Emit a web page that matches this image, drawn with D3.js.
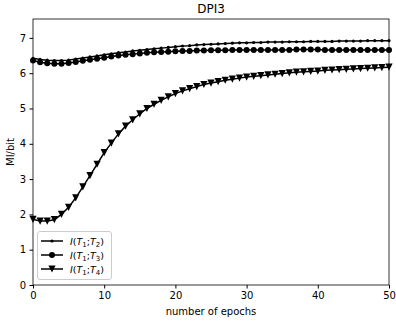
<!DOCTYPE html>
<html>
<head>
<meta charset="utf-8">
<script src="https://cdn.jsdelivr.net/npm/d3@7"></script>
<style>
  body { margin: 0; background: #fff; }
  text { font-family: "DejaVu Sans", sans-serif; }
</style>
</head>
<body>
<svg id="chart"></svg>
<script>
const epochs = d3.range(0, 51);
const xTicks = [0, 10, 20, 30, 40, 50];
const yTicks = [0, 1, 2, 3, 4, 5, 6, 7];

// I(T1;T2), small dots
const miT2 = [6.42, 6.39, 6.37, 6.36, 6.36, 6.37, 6.40, 6.43, 6.46, 6.49,
  6.52, 6.55, 6.58, 6.60, 6.63, 6.65, 6.67, 6.69, 6.71, 6.73,
  6.75, 6.77, 6.78, 6.80, 6.81, 6.82, 6.83, 6.84, 6.85, 6.86,
  6.86, 6.87, 6.87, 6.88, 6.88, 6.88, 6.89, 6.89, 6.89, 6.90,
  6.90, 6.90, 6.90, 6.91, 6.91, 6.91, 6.91, 6.92, 6.92, 6.92, 6.92];
// I(T1;T3), circles
const miT3 = [6.36, 6.31, 6.28, 6.27, 6.27, 6.29, 6.32, 6.35, 6.38, 6.41,
  6.44, 6.47, 6.50, 6.52, 6.54, 6.56, 6.58, 6.59, 6.60, 6.61,
  6.62, 6.63, 6.63, 6.64, 6.64, 6.65, 6.65, 6.65, 6.66, 6.66,
  6.66, 6.66, 6.66, 6.66, 6.66, 6.66, 6.66, 6.67, 6.67, 6.67,
  6.67, 6.66, 6.66, 6.66, 6.66, 6.66, 6.66, 6.66, 6.66, 6.66, 6.66];
// I(T1;T4), triangles
const miT4 = [1.86, 1.81, 1.81, 1.85, 2.00, 2.20, 2.47, 2.78, 3.10, 3.42,
  3.75, 4.02, 4.28, 4.50, 4.68, 4.85, 5.00, 5.12, 5.23, 5.33,
  5.42, 5.50, 5.56, 5.62, 5.68, 5.72, 5.76, 5.80, 5.83, 5.86,
  5.89, 5.91, 5.93, 5.95, 5.97, 5.99, 6.01, 6.03, 6.04, 6.05,
  6.06, 6.08, 6.09, 6.10, 6.11, 6.12, 6.13, 6.14, 6.15, 6.16, 6.17];

const W = 396, H = 321;
const plot = {left: 33, right: 389, top: 19, bottom: 285};

const svg = d3.select('#chart')
  .attr('width', W)
  .attr('height', H);

const x = d3.scaleLinear().domain([0, 50]).range([plot.left, plot.right]);
const y = d3.scaleLinear().domain([0, 7.535]).range([plot.bottom, plot.top]);

// axes
svg.append('g')
  .attr('transform', `translate(0, ${plot.bottom})`)
  .call(d3.axisBottom(x).tickValues(xTicks).tickSize(3.5).tickPadding(3.5).tickFormat(d3.format('d')))
  .call(g => g.select('.domain').remove())
  .call(g => g.selectAll('text').style('font-size', '10px').attr('fill', '#000'));

svg.append('g')
  .attr('transform', `translate(${plot.left}, 0)`)
  .call(d3.axisLeft(y).tickValues(yTicks).tickSize(3.5).tickPadding(3.5).tickFormat(d3.format('d')))
  .call(g => g.select('.domain').remove())
  .call(g => g.selectAll('text').style('font-size', '10px').attr('fill', '#000'));

// frame
svg.append('rect')
  .attr('x', plot.left).attr('y', plot.top)
  .attr('width', plot.right - plot.left).attr('height', plot.bottom - plot.top)
  .attr('fill', 'none').attr('stroke', '#000').attr('stroke-width', 0.8);

const line = d3.line().x((d, i) => x(epochs[i])).y(d => y(d));

const series = [
  {name: 'T2', values: miT2, marker: 'dot'},
  {name: 'T3', values: miT3, marker: 'circle'},
  {name: 'T4', values: miT4, marker: 'tri'}
];

function drawMarker(g, type, cx, cy) {
  if (type === 'dot') {
    g.append('circle').attr('cx', cx).attr('cy', cy).attr('r', 1.6).attr('fill', '#000');
  } else if (type === 'circle') {
    g.append('circle').attr('cx', cx).attr('cy', cy).attr('r', 3).attr('fill', '#000');
  } else {
    const s = 3.6;
    g.append('path')
      .attr('d', `M${cx - s},${cy - s}L${cx + s},${cy - s}L${cx},${cy + s}Z`)
      .attr('fill', '#000');
  }
}

series.forEach(s => {
  svg.append('path')
    .datum(s.values)
    .attr('d', line)
    .attr('fill', 'none')
    .attr('stroke', '#000')
    .attr('stroke-width', 1.5);
  const g = svg.append('g');
  s.values.forEach((v, i) => drawMarker(g, s.marker, x(epochs[i]), y(v)));
});

// title and labels
svg.append('text')
  .attr('x', (plot.left + plot.right) / 2).attr('y', 13)
  .attr('text-anchor', 'middle')
  .style('font-size', '12px')
  .text('DPI3');

svg.append('text')
  .attr('x', (plot.left + plot.right) / 2).attr('y', 315)
  .attr('text-anchor', 'middle')
  .style('font-size', '10px')
  .text('number of epochs');

svg.append('text')
  .attr('transform', `translate(14, ${(plot.top + plot.bottom) / 2}) rotate(-90)`)
  .attr('text-anchor', 'middle')
  .style('font-size', '10px')
  .text('MI/bit');

// legend
const legend = svg.append('g');
legend.append('rect')
  .attr('x', 37.5).attr('y', 231.5)
  .attr('width', 74).attr('height', 48)
  .attr('rx', 2.5)
  .attr('fill', '#fff').attr('fill-opacity', 0.8)
  .attr('stroke', '#ccc').attr('stroke-width', 1);

series.forEach((s, i) => {
  const ly = 241 + i * 14;
  legend.append('line')
    .attr('x1', 41).attr('x2', 63)
    .attr('y1', ly).attr('y2', ly)
    .attr('stroke', '#000').attr('stroke-width', 1.5);
  drawMarker(legend, s.marker, 52, ly);
  const t = legend.append('text')
    .attr('x', 70).attr('y', ly + 3.5)
    .style('font-size', '9.5px');
  t.append('tspan').style('font-style', 'italic').text('I');
  t.append('tspan').text('(');
  t.append('tspan').style('font-style', 'italic').text('T');
  t.append('tspan').attr('dy', 2).style('font-size', '7px').text('1');
  t.append('tspan').attr('dy', -2).text(';');
  t.append('tspan').style('font-style', 'italic').text('T');
  t.append('tspan').attr('dy', 2).style('font-size', '7px').text(s.name.slice(1));
  t.append('tspan').attr('dy', -2).text(')');
});
</script>
</body>
</html>
